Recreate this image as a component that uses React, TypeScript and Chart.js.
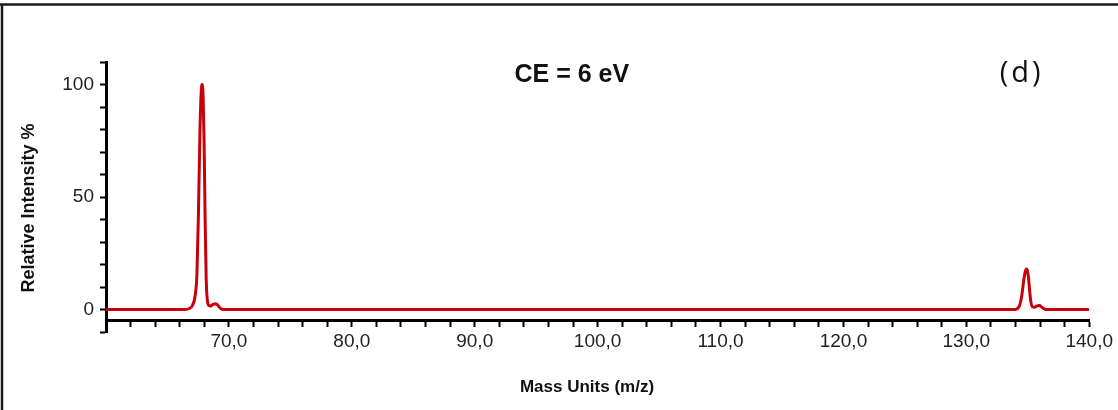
import React, { useEffect, useRef } from "react";
import { Chart, registerables } from "chart.js";

Chart.register(...registerables);

// Mass values (m/z) and relative intensities
const massUnits: number[] = [
  60, 66.4, 66.8, 67.05, 67.25, 67.4, 67.52, 67.64, 67.74, 67.82, 67.9, 67.98, 68.06, 68.15, 68.25, 68.38, 68.52, 68.7, 68.95, 69.15, 69.35, 69.6,
  133.9, 134.15, 134.35, 134.52, 134.66, 134.78, 134.88, 134.96, 135.05, 135.15, 135.25, 135.38, 135.55, 135.75, 135.95, 136.15, 136.4, 136.6, 140,
];
const relativeIntensity: number[] = [
  0, 0, 0.5, 2, 6, 16, 42, 78, 96, 100, 95, 75, 42, 14, 4, 1.8, 1.6, 2.3, 2.6, 1.5, 0.3, 0,
  0, 0.4, 2, 6.5, 12.5, 16.5, 18, 17.5, 14.5, 8.5, 3.5, 1.2, 1, 1.6, 1.8, 1, 0.1, 0, 0,
];

const xMajorTicks: number[] = [70, 80, 90, 100, 110, 120, 130, 140];
const yMajorTicks: number[] = [0, 50, 100];

const titleText = "CE = 6 eV";
const panelText = "(d)";
const xTitle = "Mass Units (m/z)";
const yTitle = "Relative Intensity %";

const decorPlugin = {
  id: "decor",
  beforeDraw(chart: any) {
    const ctx = chart.ctx;
    ctx.save();
    ctx.fillStyle = "#ffffff";
    ctx.fillRect(0, 0, chart.width, chart.height);
    ctx.restore();
  },
  afterDraw(chart: any) {
    const ctx = chart.ctx;
    const xs = chart.scales.x;
    const ys = chart.scales.y;
    ctx.save();
    // frame
    ctx.strokeStyle = "#1a1a1a";
    ctx.lineWidth = 2.5;
    ctx.beginPath();
    ctx.moveTo(0, 4.5);
    ctx.lineTo(chart.width, 4.5);
    ctx.moveTo(2, 4.5);
    ctx.lineTo(2, chart.height);
    ctx.stroke();

    // title inside plot
    ctx.fillStyle = "#111";
    ctx.textAlign = "center";
    ctx.textBaseline = "middle";
    ctx.font = "bold 25px 'Liberation Sans', Arial, sans-serif";
    ctx.fillText(titleText, xs.getPixelForValue(97.9), ys.getPixelForValue(104));

    ctx.font = "29px 'Open Sans', sans-serif";
    (ctx as any).letterSpacing = "3px";
    ctx.fillText(panelText, xs.getPixelForValue(134.5), ys.getPixelForValue(105));
    (ctx as any).letterSpacing = "0px";

    // axis titles
    ctx.font = "bold 17px 'Liberation Sans', Arial, sans-serif";
    ctx.fillText(xTitle, 587, 387);

    ctx.translate(29, 208);
    ctx.rotate(-Math.PI / 2);
    ctx.font = "bold 18px 'Liberation Sans', Arial, sans-serif";
    ctx.fillText(yTitle, 0, 0);
    ctx.restore();
  },
};

export default function App() {
  const canvasRef = useRef<HTMLCanvasElement | null>(null);

  useEffect(() => {
    if (!canvasRef.current) return;
    const points = massUnits.map((m, i) => ({ x: m, y: relativeIntensity[i] }));
    const tickFont = { family: "'Liberation Sans', Arial, sans-serif", size: 19 };
    const chart = new Chart(canvasRef.current, {
      type: "line",
      data: {
        datasets: [
          {
            data: points,
            borderColor: "#c8000a",
            borderWidth: 3,
            pointRadius: 0,
            fill: false,
            cubicInterpolationMode: "monotone",
          },
        ],
      },
      options: {
        animation: false,
        responsive: false,
        devicePixelRatio: 1,
        layout: { padding: { top: 62, bottom: 78, right: 28, left: 0 } },
        plugins: {
          legend: { display: false },
          tooltip: { enabled: false },
          title: { display: false },
        },
        scales: {
          x: {
            type: "linear",
            position: { y: -5 } as any,
            min: 60,
            max: 140,
            ticks: {
              stepSize: 2,
              autoSkip: false,
              maxRotation: 0,
              padding: 5,
              color: "#222",
              font: tickFont,
              callback: (v: any) => {
                const n = Math.round(Number(v));
                return xMajorTicks.includes(n) ? n.toFixed(1).replace(".", ",") : "";
              },
            },
            grid: {
              drawOnChartArea: false,
              drawTicks: true,
              tickLength: 5,
              tickWidth: 2,
              tickColor: "#000",
            },
            border: { display: true, color: "#000", width: 3 },
          },
          y: {
            type: "linear",
            min: -10,
            max: 110,
            afterFit: (scale: any) => {
              scale.width = 106;
            },
            ticks: {
              stepSize: 10,
              autoSkip: false,
              padding: 6,
              color: "#222",
              font: tickFont,
              callback: (v: any) => {
                const n = Math.round(Number(v));
                return yMajorTicks.includes(n) ? String(n) : "";
              },
            },
            grid: {
              drawOnChartArea: false,
              drawTicks: true,
              tickLength: 6,
              tickWidth: 2,
              tickColor: "#000",
            },
            border: { display: true, color: "#000", width: 3 },
          },
        },
      },
      plugins: [decorPlugin],
    });
    return () => chart.destroy();
  }, []);

  return (
    <div style={{ position: "absolute", left: 0, top: 0, width: 1118, height: 410, background: "#fff" }}>
      <canvas ref={canvasRef} width={1118} height={410} style={{ display: "block" }} />
    </div>
  );
}
